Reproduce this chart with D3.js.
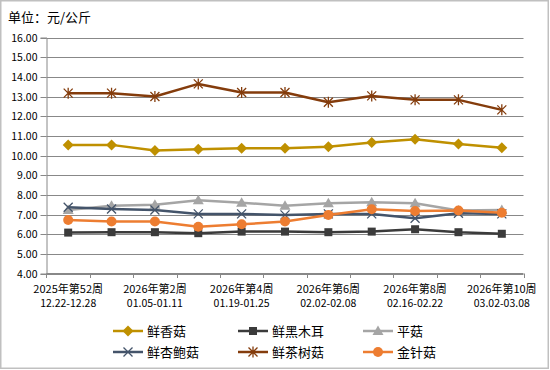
<!DOCTYPE html>
<html><head><meta charset="utf-8">
<script src="https://cdn.jsdelivr.net/npm/d3@7"></script>
<style>body{margin:0;background:#fff}svg{display:block}text{font-family:"Noto Sans CJK SC","Noto Sans",sans-serif}</style>
</head><body>
<script>
const weeks = ["2025年第52周","2026年第1周","2026年第2周","2026年第3周","2026年第4周","2026年第5周","2026年第6周","2026年第7周","2026年第8周","2026年第9周","2026年第10周"];
const dates = ["12.22-12.28","12.29-01.04","01.05-01.11","01.12-01.18","01.19-01.25","01.26-02.01","02.02-02.08","02.09-02.15","02.16-02.22","02.23-03.01","03.02-03.08"];
const seriesNames = ["鲜香菇","鲜黑木耳","平菇","鲜杏鲍菇","鲜茶树菇","金针菇"];
const xianggu   = [10.54,10.54,10.25,10.32,10.37,10.37,10.45,10.66,10.83,10.59,10.40];
const heimuer   = [6.08,6.10,6.10,6.05,6.13,6.13,6.10,6.13,6.25,6.10,6.02];
const pinggu    = [7.23,7.45,7.49,7.72,7.60,7.45,7.57,7.62,7.57,7.20,7.23];
const xingbaogu = [7.37,7.28,7.23,7.03,7.03,6.98,7.03,7.03,6.81,7.06,7.03];
const chashugu  = [13.17,13.17,13.00,13.64,13.20,13.20,12.71,13.03,12.83,12.83,12.32];
const jinzhengu = [6.72,6.64,6.64,6.38,6.50,6.64,6.98,7.27,7.18,7.20,7.09];
const yTicks = [4,5,6,7,8,9,10,11,12,13,14,15,16];
const unitLabel = "单位：元/公斤";

const colors = ["#BF9000","#3B3B3B","#A5A5A5","#44546A","#843C0C","#ED7D31"];
const markers = ["diamond","square","triangle","x","star","circle"];
const data = [xianggu,heimuer,pinggu,xingbaogu,chashugu,jinzhengu];

const W=550,H=370;
const svg=d3.select("body").append("svg").attr("width",W).attr("height",H);
svg.append("rect").attr("x",0.75).attr("y",0.75).attr("width",547.5).attr("height",367.5).attr("fill","#fff").attr("stroke","#C0C0C0").attr("stroke-width",1.5);

svg.append("text").attr("x",8).attr("y",22).attr("font-size",13).attr("fill","#000").text(unitLabel);

const x=d3.scaleBand().domain(d3.range(weeks.length)).range([46.5,523.5]).padding(0);
const y=d3.scaleLinear().domain([4,16]).range([273.5,37.5]);

// gridlines
svg.append("g").selectAll("line").data(yTicks).join("line")
  .attr("x1",46.5).attr("x2",523.5).attr("y1",d=>Math.round(y(d))+0.5).attr("y2",d=>Math.round(y(d))+0.5)
  .attr("stroke","#888").attr("stroke-width",1);

// y axis
const ya=svg.append("g").attr("transform","translate(46.5,0)")
  .call(d3.axisLeft(y).tickValues(yTicks).tickFormat(d3.format(".2f")).tickSize(6).tickPadding(3));
ya.selectAll("text").attr("fill","#000").attr("font-family","'DejaVu Sans Mono','Noto Sans CJK SC',monospace").attr("font-size",10.5);
ya.selectAll("line").attr("stroke","#888");
ya.select(".domain").attr("stroke","#888");
ya.selectAll(".tick").attr("transform",d=>`translate(0,${Math.round(y(d))+0.5})`);

// x axis line and boundary ticks
svg.append("line").attr("x1",46.5).attr("x2",523.5).attr("y1",273.5).attr("y2",273.5).attr("stroke","#888");
const bounds=d3.range(weeks.length).map(i=>x(i)).concat([x.range()[1]]);
svg.append("g").selectAll("line").data(bounds).join("line")
  .attr("x1",d=>Math.round(d)+0.5).attr("x2",d=>Math.round(d)+0.5).attr("y1",273.5).attr("y2",278)
  .attr("stroke","#888");
const shown=d3.range(0,weeks.length,2);
svg.append("g").selectAll("text").data(shown).join("text")
  .attr("text-anchor","middle").attr("font-size",11).attr("fill","#000")
  .attr("x",i=>x(i)+x.bandwidth()/2).attr("y",293).text(i=>weeks[i]);
svg.append("g").selectAll("text").data(shown).join("text")
  .attr("text-anchor","middle").attr("font-size",10.5).attr("fill","#000")
  .attr("font-family","'DejaVu Sans Mono',monospace")
  .attr("x",i=>x(i)+x.bandwidth()/2).attr("y",307).text(i=>dates[i]);

function drawMarker(g,type,color){
  if(type==="diamond") g.append("path").attr("d","M0,-5.5L5.5,0L0,5.5L-5.5,0Z").attr("fill",color);
  else if(type==="square") g.append("rect").attr("x",-4).attr("y",-4).attr("width",8).attr("height",8).attr("fill",color);
  else if(type==="triangle") g.append("path").attr("d","M0,-5.5L5.5,4L-5.5,4Z").attr("fill",color);
  else if(type==="circle") g.append("circle").attr("r",5).attr("fill",color);
  else if(type==="x") g.append("path").attr("d","M-4.5,-4.5L4.5,4.5M-4.5,4.5L4.5,-4.5").attr("stroke",color).attr("stroke-width",1.3).attr("fill","none");
  else if(type==="star") g.append("path").attr("d","M-4.5,-4.5L4.5,4.5M-4.5,4.5L4.5,-4.5M0,-5.5L0,5.5").attr("stroke",color).attr("stroke-width",1.3).attr("fill","none");
}

const line=d3.line().x((d,i)=>x(i)+x.bandwidth()/2).y(d=>y(d));
data.forEach((vals,k)=>{
  const g=svg.append("g");
  g.append("path").datum(vals).attr("d",line).attr("fill","none").attr("stroke",colors[k]).attr("stroke-width",2.5).attr("stroke-linejoin","round");
  vals.forEach((v,i)=>{
    const m=g.append("g").attr("transform",`translate(${x(i)+x.bandwidth()/2},${y(v)})`);
    drawMarker(m,markers[k],colors[k]);
  });
});

// legend
const legX=[113,238,363], legY=[331,352];
seriesNames.forEach((n,k)=>{
  const cx=legX[k%3], cy=legY[Math.floor(k/3)];
  const g=svg.append("g").attr("transform",`translate(${cx},${cy})`);
  g.append("line").attr("x1",0).attr("x2",30).attr("y1",0).attr("y2",0).attr("stroke",colors[k]).attr("stroke-width",2.5);
  const m=g.append("g").attr("transform","translate(15,0)");
  drawMarker(m,markers[k],colors[k]);
  g.append("text").attr("x",34).attr("y",0).attr("dy","0.35em").attr("font-size",13).attr("fill","#000").text(n);
});
</script>
</body></html>
